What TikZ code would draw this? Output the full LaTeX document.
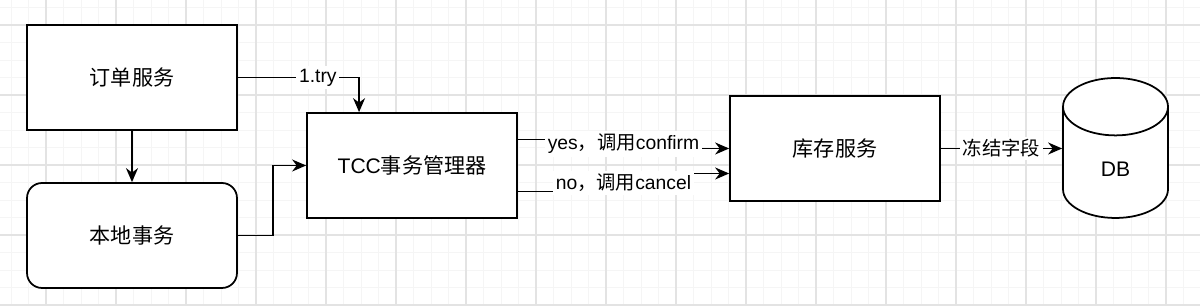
\documentclass[tikz,border=0pt]{standalone}
\usepackage{fontspec}
\setmainfont{Liberation Sans}
\newfontfamily\cjk{Noto Sans CJK SC}
\usetikzlibrary{arrows.meta,shapes.geometric,calc}
\definecolor{gridmajor}{HTML}{E3E3E3}
\definecolor{gridminor}{HTML}{F5F5F5}
\newcommand\en[1]{{\rmfamily #1}}

\begin{document}
\begin{tikzpicture}[x=0.02cm, y=-0.02cm,
    svc/.style={rectangle, draw, line width=1pt, fill=white, minimum width=4.2cm, minimum height=2.1cm, align=center, font=\fontsize{12}{14}\selectfont\cjk},
    local/.style={svc, rounded corners=0.3cm},
    store/.style={cylinder, shape border rotate=90, aspect=1.4, draw, line width=1pt, fill=white, minimum width=2.1cm, minimum height=2.8cm, font=\fontsize{12}{14}\selectfont},
    link/.style={-{Stealth[length=2.8mm,width=2.4mm,inset=0.9mm]}, line width=1pt},
    tag/.style={fill=white, inner sep=1.5pt, font=\fontsize{11}{13}\selectfont}
]
\useasboundingbox (0,0) rectangle (1200,306);
\fill[white] (0,0) rectangle (1200,306);

% Grid
\foreach \i in {0,...,70}
    \draw[gridminor, line width=0.5pt] ({-24+17.5*\i},0) -- ++(0,306);
\foreach \i in {0,...,17}
    \draw[gridminor, line width=0.5pt] (0,{7.5+17.5*\i}) -- ++(1200,0);
\foreach \i in {0,...,16}
    \draw[gridmajor, line width=0.8pt] ({46+70*\i},0) -- ++(0,306);
\foreach \i in {0,...,4}
    \draw[gridmajor, line width=0.8pt] (0,{25+70*\i}) -- ++(1200,0);

% Services
\node[svc] (order) at (132,77.5)  {订单服务};
\node[local] (local) at (132,235.5) {本地事务};
\node[svc] (tcc) at (412,165.5)   {\en{TCC}事务管理器};
\node[svc] (stock) at (835,148.5) {库存服务};
\node[store, anchor=shape center] (db) at (1115.5,148) {DB};

% Calls
\coordinate (try) at ($(tcc.north west)!0.25!(tcc.north east)$);
\coordinate (yesmid) at (623.5,144);
\coordinate (nomid) at (623.5,183);
\draw[link] (order.south) -- (local.north);
\draw[link] (order.east) -- node[tag, pos=0.66]{1.try} (order.east -| try) -- (try);
\draw[link] (local.east) -- ++(35,0) |- (tcc.west);
\draw[link] ($(tcc.east)+(0,-26)$) -| (yesmid) node[tag]{yes{\cjk ，调用}confirm} |- (stock.west);
\draw[link] ($(tcc.east)+(0,26)$) -| (nomid) node[tag]{no{\cjk ，调用}cancel} |- ($(stock.west)+(0,25)$);
\draw[link] (stock.east) -- node[tag]{\cjk 冻结字段} (stock.east -| db.west);

\end{tikzpicture}
\end{document}
